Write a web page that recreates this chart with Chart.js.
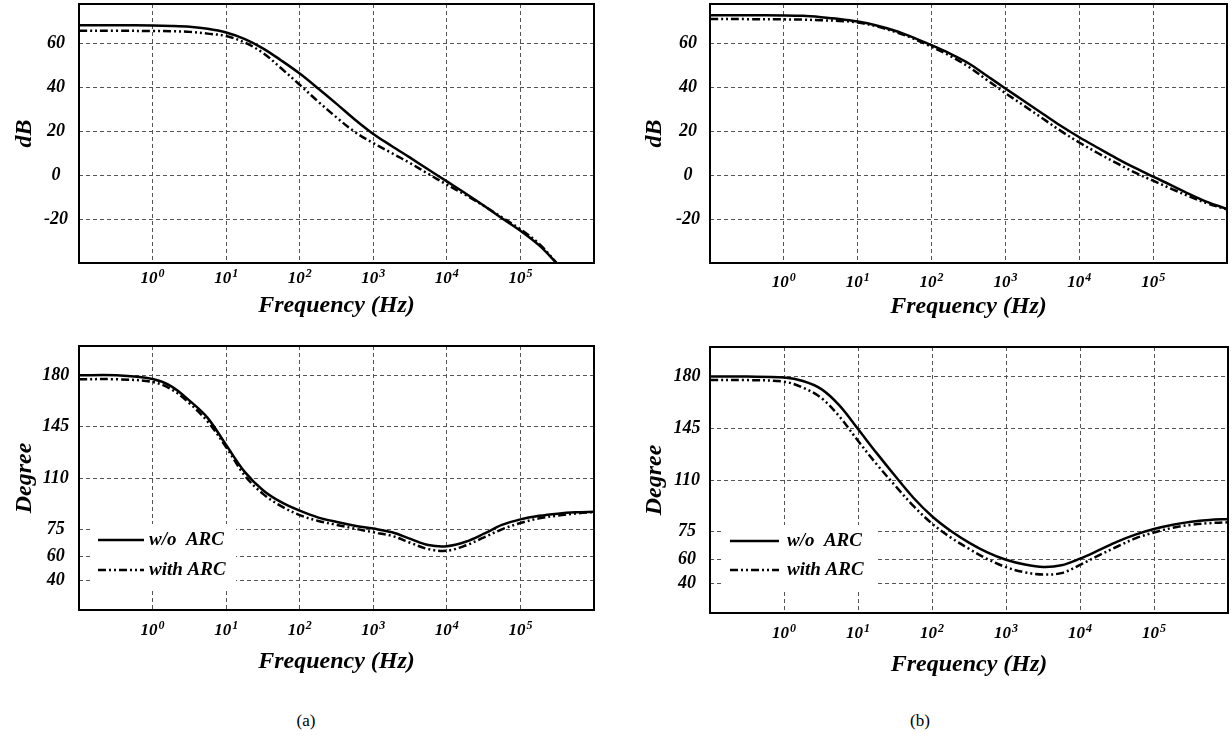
<!DOCTYPE html>
<html>
<head>
<meta charset="utf-8">
<title>Bode plots</title>
<script src="https://cdn.jsdelivr.net/npm/chart.js@4.4.0/dist/chart.umd.min.js"></script>
<style>
  html, body { margin: 0; padding: 0; background: #fff; }
  body { width: 1232px; height: 741px; position: relative; overflow: hidden; }
  canvas { position: absolute; }
  .cap { position: absolute; font: 17px "Liberation Serif", serif; color: #000; transform: translateX(-50%); }
</style>
</head>
<body>
<canvas id="magA" width="616" height="330" style="left:0;top:0"></canvas>
<canvas id="magB" width="616" height="330" style="left:616px;top:0"></canvas>
<canvas id="phA" width="616" height="370" style="left:0;top:330px"></canvas>
<canvas id="phB" width="616" height="370" style="left:616px;top:330px"></canvas>
<div class="cap" style="left:306px;top:711px">(a)</div>
<div class="cap" style="left:920px;top:711px">(b)</div>
<script>
// frequency samples (Hz), shared by every curve
const freq = [0.1, 0.32, 1, 1.8, 3.2, 5.6, 10, 18, 32, 56, 100, 180, 320, 560,
  1e3, 1.8e3, 3.2e3, 5.6e3, 1e4, 1.8e4, 3.2e4, 5.6e4, 1e5, 1.8e5, 3.2e5, 5.6e5, 1e6];
const decades = [1, 10, 100, 1e3, 1e4, 1e5];
const decadeBase = '10';
const decadeExp = ['0', '1', '2', '3', '4', '5'];
const seriesNames = ['w/o  ARC', 'with ARC'];

// (a) magnitude, dB
const magA_wo = [68.3, 68.3, 68.2, 68.0, 67.6, 66.7, 65.0, 62.0, 57.7, 52.3, 46.3, 39.4, 32.4, 25.4,
  18.8, 13.2, 7.9, 2.6, -2.8, -8.3, -13.9, -19.6, -25.3, -32.0, -40.5, null, null];
const magA_w = [65.8, 65.8, 65.7, 65.6, 65.3, 64.5, 63.4, 60.4, 55.6, 48.7, 41.2, 33.4, 26.2, 19.7,
  14.6, 10.0, 5.4, 0.6, -4.3, -9.0, -14.0, -19.2, -24.6, -31.3, -40.5, null, null];
// (b) magnitude, dB
const magB_wo = [72.9, 72.9, 72.8, 72.6, 72.0, 71.2, 70.0, 68.2, 65.8, 62.8, 59.2, 55.3, 50.9, 45.3,
  39.5, 33.7, 28.0, 22.5, 17.3, 12.4, 7.7, 3.4, -0.7, -4.7, -8.8, -12.4, -15.4];
const magB_w = [71.2, 71.1, 71.0, 70.9, 70.6, 70.3, 69.6, 67.8, 65.3, 62.3, 58.5, 54.3, 49.3, 43.4,
  37.4, 31.6, 25.8, 20.2, 14.9, 10.0, 5.5, 1.3, -2.5, -6.3, -9.9, -13.0, -15.6];
const magTicks = [-20, 0, 20, 40, 60];
const magTickLabels = ['-20', '0', '20', '40', '60'];

// phase, degree (axis values)
const phA_wo = [180, 180, 177.5, 172.5, 162.6, 151.0, 132.5, 114.0, 101.5, 93.5, 87.7, 83.0, 80.0, 77.5,
  75.5, 73.0, 68.5, 64.3, 63.5, 66.5, 72.0, 78.0, 81.8, 84.2, 85.7, 86.6, 87.0];
const phA_w = [177.3, 177.3, 175.5, 170.5, 160.8, 148.5, 131.0, 111.5, 99.0, 90.8, 84.7, 80.7, 78.0, 75.5,
  73.0, 70.5, 65.8, 61.5, 60.4, 64.0, 69.5, 75.0, 79.3, 82.5, 84.3, 85.8, 86.8];
const phB_wo = [180, 180, 179.3, 177.0, 171.5, 160.5, 144.5, 128.0, 112.5, 98.0, 85.5, 75.5, 67.5, 61.0,
  56.0, 52.8, 51.2, 52.3, 56.8, 62.5, 68.3, 73.0, 76.8, 79.7, 81.7, 82.9, 83.6];
const phB_w = [177.7, 177.6, 176.5, 172.5, 165.5, 153.0, 136.5, 120.5, 106.0, 92.5, 80.5, 71.0, 63.3, 56.5,
  51.0, 47.5, 46.0, 47.0, 52.5, 59.0, 65.0, 70.5, 74.5, 77.7, 79.7, 80.8, 81.4];
const phaseTicks = [40, 56.5, 75, 110, 145, 180];
const phaseTickLabels = ['40', '60', '75', '110', '145', '180'];

const FONT = 'Liberation Serif';
const yTickFont = { family: FONT, size: 18, style: 'italic', weight: 'bold' };
const titleFont = { family: FONT, size: 24, style: 'italic', weight: 'bold' };

// full box around the plot area
const framePlugin = {
  id: 'frame',
  afterDraw(chart) {
    const { ctx, chartArea: a } = chart;
    ctx.save();
    ctx.strokeStyle = '#000';
    ctx.lineWidth = 2;
    ctx.strokeRect(a.left, a.top, a.right - a.left, a.bottom - a.top);
    ctx.restore();
  }
};

// x tick labels as 10 with a raised exponent
const expLabelPlugin = {
  id: 'expLabels',
  afterDraw(chart, args, o) {
    const { ctx, chartArea: a } = chart;
    const s = chart.scales.x;
    const yBase = a.bottom + o.offset;
    ctx.save();
    ctx.fillStyle = '#000';
    ctx.textBaseline = 'alphabetic';
    ctx.textAlign = 'left';
    s.ticks.forEach((t, i) => {
      const px = s.getPixelForValue(t.value);
      ctx.font = 'italic bold 17px "' + FONT + '"';
      const wb = ctx.measureText(decadeBase).width;
      ctx.font = 'italic bold 12px "' + FONT + '"';
      const we = ctx.measureText(decadeExp[i]).width;
      const x0 = px - (wb + we + 1) / 2;
      ctx.font = 'italic bold 17px "' + FONT + '"';
      ctx.fillText(decadeBase, x0, yBase);
      ctx.font = 'italic bold 12px "' + FONT + '"';
      ctx.fillText(decadeExp[i], x0 + wb + 1, yBase - 6.5);
    });
    ctx.restore();
  }
};

// legend drawn inside the plot, on a white patch over the grid
const legendPlugin = {
  id: 'boxLegend',
  beforeDatasetsDraw(chart, args, o) {
    const { ctx, chartArea: a } = chart;
    ctx.save();
    ctx.fillStyle = '#fff';
    ctx.fillRect(a.left + o.x, a.top + o.y, o.w, o.h);
    ctx.restore();
  },
  afterDatasetsDraw(chart, args, o) {
    const { ctx, chartArea: a } = chart;
    ctx.save();
    chart.data.datasets.forEach((ds, i) => {
      const y = a.top + o.rows[i];
      const x0 = a.left + o.lineX;
      ctx.strokeStyle = ds.borderColor;
      ctx.lineWidth = ds.borderWidth;
      ctx.setLineDash(ds.borderDash);
      ctx.beginPath();
      ctx.moveTo(x0, y);
      ctx.lineTo(x0 + o.lineLen, y);
      ctx.stroke();
      ctx.setLineDash([]);
      ctx.fillStyle = '#000';
      ctx.font = 'italic bold 19px "' + FONT + '"';
      ctx.textBaseline = 'middle';
      ctx.fillText(ds.label, a.left + o.textX, y);
    });
    ctx.restore();
  }
};

function makeChart(id, p) {
  return new Chart(document.getElementById(id), {
    type: 'line',
    data: {
      datasets: p.series.map((vals, i) => ({
        label: seriesNames[i],
        data: freq.map((f, k) => ({ x: f, y: vals[k] })),
        borderColor: '#000',
        borderWidth: 2.5,
        borderDash: i === 1 ? [8, 3, 2, 3, 2, 3] : [],
        pointRadius: 0,
        tension: 0.35,
        fill: false
      }))
    },
    options: {
      responsive: false,
      animation: false,
      events: [],
      layout: { padding: { left: 0, top: p.top, right: p.right, bottom: 0 } },
      plugins: {
        legend: { display: false },
        tooltip: { enabled: false },
        expLabels: { offset: p.xLabelOff },
        boxLegend: p.legend || {}
      },
      scales: {
        x: {
          type: 'logarithmic',
          min: 0.1,
          max: 1e6,
          afterBuildTicks: s => { s.ticks = decades.map(v => ({ value: v })); },
          afterFit: s => { s.height = p.xAxisH; s.paddingLeft = 0; s.paddingRight = 0; },
          grid: { color: '#555', lineWidth: 1, drawTicks: false },
          border: { display: false, dash: [4, 3] },
          ticks: { display: false, autoSkip: false, maxRotation: 0 },
          title: {
            display: true, text: 'Frequency (Hz)', color: '#000', font: titleFont,
            padding: { top: 0, bottom: p.xTitlePad }
          }
        },
        y: {
          type: 'linear',
          min: p.yMin,
          max: p.yMax,
          afterBuildTicks: s => { s.ticks = p.yTicks.map(v => ({ value: v })); },
          afterFit: s => { s.width = p.left; s.paddingTop = 0; s.paddingBottom = 0; },
          grid: { color: '#555', lineWidth: 1, drawTicks: false },
          border: { display: false, dash: [4, 3] },
          ticks: {
            crossAlign: 'center', padding: p.yTickPad, color: '#000', font: yTickFont,
            callback: (v, i) => p.yLabels[i]
          },
          title: {
            display: true, text: p.yTitle, color: '#000', font: titleFont,
            padding: { top: p.yTitlePad, bottom: 0 }
          }
        }
      }
    },
    plugins: p.legend ? [framePlugin, expLabelPlugin, legendPlugin] : [framePlugin, expLabelPlugin]
  });
}

makeChart('magA', {
  series: [magA_wo, magA_w], yTitle: 'dB', yMin: -40, yMax: 78, yTicks: magTicks, yLabels: magTickLabels,
  left: 79, top: 4, right: 22, xAxisH: 67, xLabelOff: 20, xTitlePad: 10, yTickPad: 11, yTitlePad: 10.5
});
makeChart('magB', {
  series: [magB_wo, magB_w], yTitle: 'dB', yMin: -40, yMax: 78, yTicks: magTicks, yLabels: magTickLabels,
  left: 94, top: 4, right: 5, xAxisH: 67, xLabelOff: 24, xTitlePad: 9, yTickPad: 10, yTitlePad: 24.5
});
makeChart('phA', {
  series: [phA_wo, phA_w], yTitle: 'Degree', yMin: 20, yMax: 200, yTicks: phaseTicks, yLabels: phaseTickLabels,
  left: 79, top: 16, right: 22, xAxisH: 90, xLabelOff: 25, xTitlePad: 24, yTickPad: 9.8, yTitlePad: 10,
  legend: { x: 13, y: 178, w: 144, h: 65, lineX: 19, lineLen: 46, textX: 70, rows: [194, 224] }
});
makeChart('phB', {
  series: [phB_wo, phB_w], yTitle: 'Degree', yMin: 20, yMax: 200, yTicks: phaseTicks, yLabels: phaseTickLabels,
  left: 94, top: 17, right: 4, xAxisH: 87, xLabelOff: 25, xTitlePad: 21, yTickPad: 9.5, yTitlePad: 24,
  legend: { x: 14, y: 178, w: 152, h: 65, lineX: 20, lineLen: 49, textX: 77, rows: [194, 223] }
});
</script>
</body>
</html>
